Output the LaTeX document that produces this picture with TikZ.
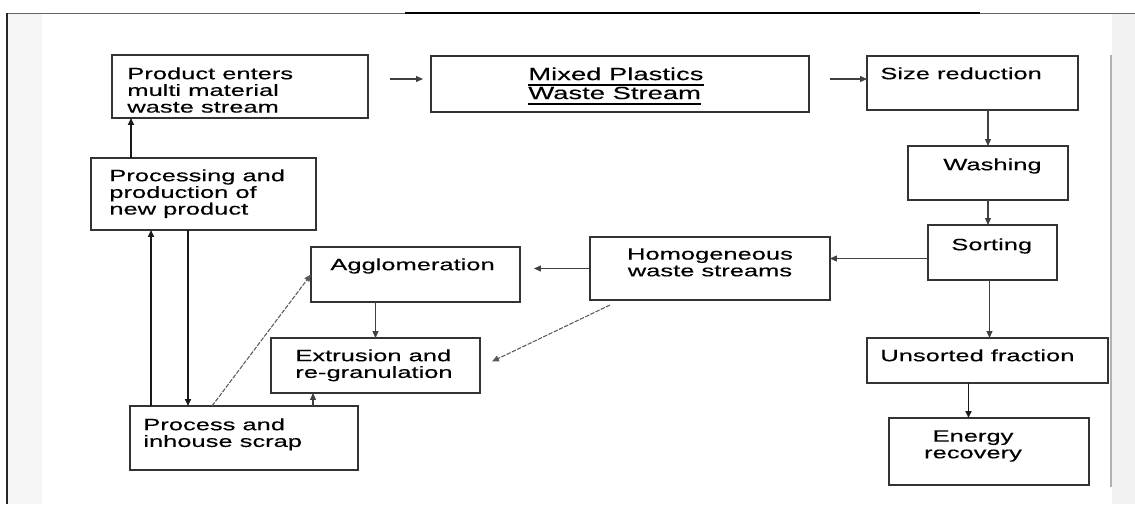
\documentclass[tikz,border=0pt]{standalone}
\usepackage{fontspec}
\setmainfont{Liberation Sans}[FakeStretch=1.56,FakeBold=0.3]
\usetikzlibrary{arrows.meta,calc}
\newcommand\mixul[1]{\setbox0\hbox{#1}\rlap{\vrule height -2.1pt depth 3.3pt width \wd0}\box0}

\begin{document}
\begin{tikzpicture}[
    x=0.02cm, y=-0.02cm,
    every node/.style={font=\fontsize{9.3}{9.5}\selectfont},
    box/.style={draw=black!80,line width=0.8pt,inner sep=0pt,outer sep=0pt,anchor=north west},
    txt/.style={inner sep=0pt,anchor=north west,align=left},
    arr/.style={-{Triangle[length=1.4mm,width=1.2mm]},draw=black!75,line width=0.6pt},
    arrb/.style={arr,draw=black!90,line width=1.1pt},
    diag/.style={arr,draw=black!65,dash pattern=on 2.5pt off 0.8pt},
  ]
  \useasboundingbox (0,0) rectangle (1135,504);

  % page frame
  \fill[black!4] (8,14) rectangle (42,504);
  \fill[black!5] (1112,14) rectangle (1135,504);
  \draw[black!60,line width=0.5pt] (7,13) -- (405,13);
  \draw[black,line width=1.7pt] (405,13) -- (980,13);
  \draw[black!60,line width=0.5pt] (980,13) -- (1135,13);
  \draw[black!85,line width=0.9pt] (7,13) -- (7,504);
  \draw[black!30,line width=0.6pt] (1111,55) -- (1111,487);

  % boxes
  \node[box,minimum width=5.12cm,minimum height=1.26cm] (prod) at (112,55) {};
  \node[box,minimum width=7.56cm,minimum height=1.12cm] (mixed) at (431,56) {};
  \node[box,minimum width=4.22cm,minimum height=1.08cm] (size) at (867,56) {};
  \node[box,minimum width=3.20cm,minimum height=1.08cm] (wash) at (908,146) {};
  \node[box,minimum width=2.58cm,minimum height=1.10cm] (sort) at (928,225) {};
  \node[box,minimum width=4.80cm,minimum height=1.26cm] (homog) at (590,237) {};
  \node[box,minimum width=4.18cm,minimum height=1.10cm] (aggl) at (311,247) {};
  \node[box,minimum width=4.18cm,minimum height=1.10cm] (extr) at (271,338) {};
  \node[box,minimum width=4.50cm,minimum height=1.44cm] (proc) at (91,158) {};
  \node[box,minimum width=4.56cm,minimum height=1.28cm] (scrap) at (130,406) {};
  \node[box,minimum width=4.82cm,minimum height=0.90cm] (unsort) at (867,338) {};
  \node[box,minimum width=4.00cm,minimum height=1.34cm] (energy) at (889,418) {};

  % texts
  \node[txt] (prodT) at ([shift={(15,12)}]prod.north west)
    {Product enters\\multi material\\waste stream};
  \node[txt,font=\fontsize{10}{10.8}\selectfont] (mixedT) at ([shift={(97,11)}]mixed.north west)
    {\mixul{Mixed Plastics}\\\mixul{Waste Stream}};
  \node[txt] (sizeT) at ([shift={(13,11)}]size.north west) {Size reduction};
  \node[txt] (washT) at ([shift={(35,12)}]wash.north west) {Washing};
  \node[txt] (sortT) at ([shift={(23,13)}]sort.north west) {Sorting};
  \node[txt,anchor=north,align=center] (homogT) at ([shift={(0,11)}]homog.north)
    {Homogeneous\\waste streams};
  \node[txt] (agglT) at ([shift={(19,11)}]aggl.north west) {Agglomeration};
  \node[txt] (extrT) at ([shift={(24,11)}]extr.north west) {Extrusion and\\re-granulation};
  \node[txt] (procT) at ([shift={(18,11)}]proc.north west)
    {Processing and\\production of\\new product};
  \node[txt] (scrapT) at ([shift={(13,12)}]scrap.north west) {Process and\\inhouse scrap};
  \node[txt] (unsortT) at ([shift={(13,11)}]unsort.north west) {Unsorted fraction};
  \node[txt,anchor=north,align=center] (energyT) at ([shift={(-16,12)}]energy.north)
    {Energy\\recovery};

  % main stream
  \draw[arr] ($(prod.north east)+(22,24)$) -- ($(mixed.north west)+(-8,23)$);
  \draw[arr] ($(mixed.north east)+(21,23)$) -- ($(size.north west)+(0,23)$);
  \draw[arr] (wash.north |- size.south) -- (wash.north);
  \draw[arr] (wash.south) -- (wash.south |- sort.north);
  \draw[arr] ($(sort.west)+(0,6)$) coordinate (s1) -- (s1 -| homog.east);
  \draw[arr,shorten >=0.28cm] (homog.west) -- (homog.west -| aggl.east);
  \draw[arr] (extr.north |- aggl.south) -- (extr.north);
  \draw[diag] ($(homog.south west)+(20,5)$) -- ($(extr.east)+(12,-4)$);
  \draw[arr] ($(sort.south)+(-3,0)$) coordinate (s3) -- (s3 |- unsort.north);
  \draw[arrb] ($(unsort.south)+(-19,0)$) coordinate (u1) -- (u1 |- energy.north);

  % product loop
  \draw[arrb] ($(proc.north west)+(40,0)$) coordinate (p1) -- (p1 |- prod.south);
  \draw[arrb] ($(scrap.north west)+(21,0)$) coordinate (p2) -- (p2 |- proc.south);
  \draw[arrb] ($(proc.south west)+(97,0)$) coordinate (p3) -- (p3 |- scrap.north);
  \draw[diag] ($(scrap.north west)+(82,0)$) -- (aggl.west);
  \draw[arr] ($(scrap.north west)+(183,0)$) coordinate (s2) -- (s2 |- extr.south);
\end{tikzpicture}
\end{document}
